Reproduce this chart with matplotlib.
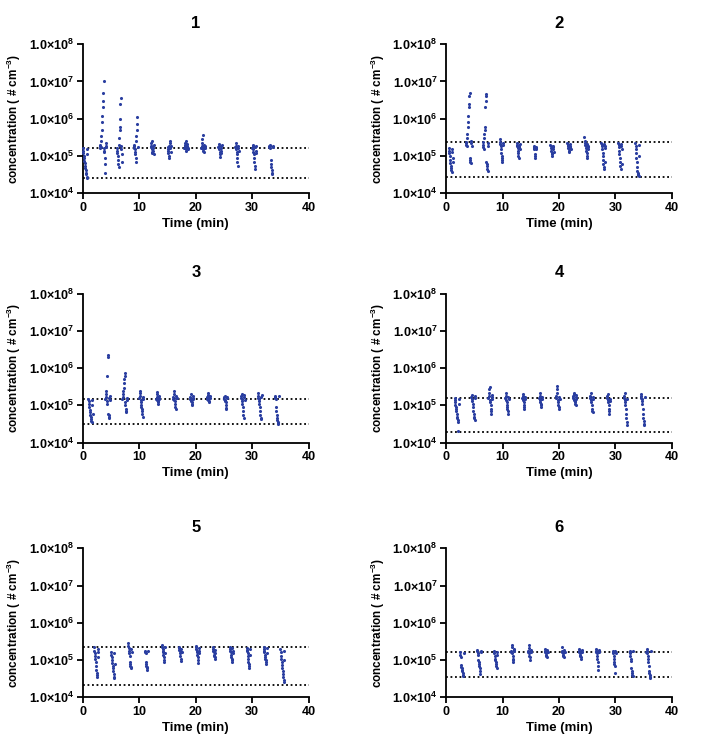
import numpy as np
import matplotlib
matplotlib.use("Agg")
import matplotlib.pyplot as plt
from matplotlib.ticker import FixedLocator, NullLocator

plt.rcParams['font.family'] = ['Liberation Sans', 'DejaVu Sans']
plt.rcParams['font.weight'] = 'bold'
plt.rcParams['mathtext.fontset'] = 'custom'
plt.rcParams['mathtext.rm'] = 'Liberation Sans:bold'
plt.rcParams['mathtext.bf'] = 'Liberation Sans:bold'
plt.rcParams['mathtext.it'] = 'Liberation Sans:bold'

# measurement sampling step inside one burst (min)
dt = 0.055

# start time (min) of each burst per run
starts_1 = [0, 3, 6, 9, 12, 15, 18, 21, 24, 27, 30, 33]
starts_2 = [0.5, 3.5, 6.5, 9.5, 12.5, 15.5, 18.5, 21.5, 24.5, 27.5, 30.5, 33.5]
starts_3 = [1, 4, 7, 10, 13, 16, 19, 22, 25, 28, 31, 34]
starts_4 = [1.5, 4.5, 7.5, 10.5, 13.5, 16.5, 19.5, 22.5, 25.5, 28.5, 31.5, 34.5]
starts_5 = [2, 5, 8, 11, 14, 17, 20, 23, 26, 29, 32, 35]
starts_6 = [2.5, 5.5, 8.5, 11.5, 14.5, 17.5, 20.5, 23.5, 26.5, 29.5, 32.5, 35.5]

# concentrations in 1e5 # cm-3, one list per burst
conc_1 = [
    [1.6, 1.4, 1.2, 1.0, 0.9, 0.75, 0.65, 0.55, 0.48, 0.42, 0.36, 0.32, 0.28, 0.26, 1.5, 1.1],
    [1.6, 1.8, 2.0, 1.7, 2.5, 3.5, 5, 8, 12, 20, 30, 50, 100, 1.6, 1.4, 1.3, 0.9, 0.6, 0.35, 1.9, 1.7, 2.2],
    [1.6, 1.4, 1.2, 1.0, 0.8, 0.6, 0.5, 2, 3, 5, 6, 10, 25, 35, 1.8, 1.5, 1.1, 0.7],
    [1.6, 1.8, 2, 1.5, 1.3, 1.1, 0.9, 0.7, 2.5, 3.5, 5, 7, 11, 1.7],
    [1.7, 1.9, 2.2, 2.5, 1.5, 1.3, 1.2, 1.6, 1.8, 1.4, 1.1, 2.0],
    [1.7, 1.5, 1.4, 1.2, 1.0, 0.9, 1.8, 2.2, 2.5, 1.6, 1.3, 1.9],
    [1.6, 1.8, 2.0, 2.3, 2.6, 1.5, 1.4, 1.7, 1.9, 2.1, 1.6, 1.55],
    [1.6, 1.8, 2.2, 2.8, 3.6, 1.5, 1.4, 1.3, 1.7, 2.0, 1.9, 1.65],
    [1.7, 1.9, 2.1, 1.5, 1.3, 1.1, 0.95, 1.6, 1.8, 1.4, 1.2, 2.0],
    [1.7, 1.9, 2.2, 1.5, 1.3, 1.1, 0.9, 0.7, 0.55, 1.6, 1.8, 1.4],
    [1.6, 1.8, 2.0, 1.5, 1.3, 1.1, 0.9, 0.7, 0.55, 0.45, 1.7, 1.9, 1.4, 1.2],
    [1.7, 1.9, 2.0, 1.8, 1.6, 0.8, 0.6, 0.5, 0.42, 0.36, 0.32, 1.75, 1.85],
]
conc_2 = [
    [1.6, 1.4, 1.2, 1.0, 0.8, 0.65, 0.55, 0.48, 0.42, 0.38, 1.5, 1.3, 0.9, 0.7],
    [2.4, 2.2, 2.0, 1.8, 3, 4, 6, 8, 12, 20, 25, 40, 48, 0.9, 0.8, 0.7, 0.65, 2.6, 2.3, 1.9],
    [2.4, 2.0, 1.7, 1.5, 3, 4, 5, 6, 20, 30, 40, 45, 0.7, 0.6, 0.55, 0.45, 0.4, 2.2, 1.8],
    [2.8, 2.4, 2.1, 1.8, 1.5, 1.2, 1.0, 0.9, 0.8, 0.7, 2.2, 2.0],
    [2.3, 2.0, 1.8, 1.6, 1.4, 1.2, 1.0, 0.9, 1.9, 1.7, 1.5, 2.1],
    [1.8, 1.7, 1.6, 1.5, 1.1, 1.0, 0.9, 1.75, 1.65, 1.55],
    [2.0, 1.8, 1.6, 1.4, 1.2, 1.1, 1.0, 1.9, 1.7, 1.5, 1.3],
    [2.2, 2.0, 1.8, 1.6, 1.5, 1.4, 1.3, 2.1, 1.9, 1.7, 1.55],
    [3.3, 2.5, 2.2, 2.0, 1.8, 1.6, 1.4, 1.2, 1.0, 0.9, 2.1, 1.9, 1.7, 1.5],
    [2.2, 2.0, 1.8, 1.5, 1.2, 1.0, 0.8, 0.6, 0.5, 0.45, 2.1, 1.9, 1.6, 0.7],
    [2.2, 2.0, 1.7, 1.4, 1.1, 0.9, 0.7, 0.55, 0.45, 2.1, 1.9, 1.5, 0.6],
    [2.2, 1.8, 1.5, 1.2, 0.9, 0.7, 0.5, 0.4, 0.35, 0.32, 0.3, 0.29, 2.0, 1.0],
]
conc_3 = [
    [1.5, 1.3, 1.1, 0.9, 0.75, 0.65, 0.55, 0.48, 0.42, 0.38, 0.35, 1.4, 1.0, 0.6],
    [1.5, 1.7, 2.0, 2.5, 1.3, 1.1, 6, 20, 22, 0.6, 0.55, 0.5, 0.45, 1.6, 1.8, 1.4],
    [1.5, 1.7, 2, 2.5, 3, 4, 5, 6, 7.5, 1.2, 1.0, 0.8, 0.7, 0.65, 1.6, 1.4],
    [1.6, 1.8, 2.2, 2.5, 1.4, 1.2, 1.0, 0.9, 0.8, 0.7, 0.6, 0.5, 1.7, 1.5],
    [1.5, 1.7, 2.0, 2.3, 1.4, 1.3, 1.2, 1.1, 1.6, 1.8, 1.5],
    [1.5, 1.7, 2.0, 2.4, 1.4, 1.3, 1.1, 0.9, 0.8, 1.6, 1.8, 1.55],
    [1.5, 1.7, 2.0, 1.4, 1.3, 1.2, 1.1, 1.0, 1.6, 1.8, 1.5],
    [1.5, 1.7, 1.9, 2.2, 1.4, 1.3, 1.2, 1.6, 1.8, 1.55],
    [1.5, 1.7, 1.8, 1.4, 1.3, 1.2, 1.0, 0.85, 0.78, 1.6, 1.65],
    [1.6, 1.8, 2.0, 1.5, 1.3, 1.1, 0.9, 0.7, 0.55, 0.45, 1.7, 1.9, 1.4],
    [1.6, 1.8, 2.1, 1.5, 1.3, 1.1, 0.9, 0.7, 0.55, 0.45, 0.42, 1.7, 1.9],
    [1.6, 1.8, 1.7, 1.5, 0.9, 0.7, 0.55, 0.45, 0.4, 0.36, 0.34, 0.32, 1.75],
]
conc_4 = [
    [1.6, 1.4, 1.2, 1.0, 0.9, 0.8, 0.7, 0.6, 0.5, 0.45, 0.4, 0.35, 0.21, 1.5, 1.1],
    [1.7, 1.9, 1.5, 1.3, 1.1, 0.9, 0.7, 0.6, 0.5, 0.45, 0.4, 1.6, 1.8],
    [1.6, 1.8, 2.2, 2.8, 3.2, 1.4, 1.2, 1.0, 0.8, 0.7, 0.6, 1.7, 1.9, 1.5],
    [1.6, 1.8, 2.2, 1.4, 1.2, 1.0, 0.9, 0.8, 0.7, 0.6, 1.7, 1.5],
    [1.6, 1.8, 2.0, 1.4, 1.2, 1.0, 0.9, 0.8, 1.7, 1.5],
    [1.6, 1.8, 2.1, 1.4, 1.2, 1.1, 1.0, 0.9, 1.7, 1.5],
    [1.6, 1.8, 2.2, 2.8, 3.4, 1.4, 1.2, 1.0, 0.9, 0.8, 1.7, 1.5],
    [1.6, 1.8, 2.0, 2.2, 1.4, 1.3, 1.2, 1.1, 1.0, 1.7, 1.9, 1.5],
    [1.6, 1.8, 2.1, 1.4, 1.2, 1.0, 0.8, 0.7, 0.65, 1.7, 1.5],
    [1.6, 1.8, 2.0, 1.4, 1.2, 1.0, 0.8, 0.7, 0.6, 1.5, 1.3],
    [1.6, 1.8, 2.1, 1.4, 1.2, 1.0, 0.8, 0.6, 0.45, 0.35, 0.3, 1.5],
    [1.6, 1.8, 2.0, 1.5, 1.3, 1.1, 0.8, 0.6, 0.45, 0.38, 0.32, 0.3, 1.7],
]
conc_5 = [
    [2.2, 1.8, 1.5, 1.3, 1.1, 0.9, 0.7, 0.55, 0.45, 0.4, 0.35, 2.0, 1.6, 1.2],
    [1.6, 1.4, 1.2, 1.0, 0.85, 0.7, 0.6, 0.5, 0.42, 0.36, 0.33, 1.5, 0.8],
    [2.8, 2.4, 2.1, 1.8, 1.5, 1.3, 0.9, 0.8, 0.7, 0.65, 0.6, 2.0, 1.6],
    [1.8, 1.6, 1.5, 0.9, 0.8, 0.7, 0.65, 0.6, 0.55, 1.7],
    [2.6, 2.3, 2.0, 1.8, 1.6, 1.4, 1.2, 1.0, 0.9, 2.2, 1.5],
    [2.3, 2.1, 1.9, 1.7, 1.5, 1.3, 1.1, 0.95, 2.0, 1.6],
    [2.4, 2.2, 2.0, 1.8, 1.6, 1.4, 1.2, 1.0, 0.85, 2.1, 1.7, 1.5],
    [2.2, 2.0, 1.8, 1.6, 1.4, 1.3, 1.2, 1.1, 1.9, 1.5],
    [2.2, 2.0, 1.8, 1.6, 1.4, 1.2, 1.1, 1.0, 0.9, 2.1, 1.7, 1.5],
    [2.1, 1.9, 1.7, 1.5, 1.3, 1.1, 0.9, 0.8, 0.7, 0.6, 2.0, 1.4],
    [2.2, 2.0, 1.8, 1.6, 1.4, 1.2, 1.1, 1.0, 0.9, 0.8, 2.1, 1.5],
    [2.0, 1.6, 1.3, 1.1, 0.9, 0.75, 0.6, 0.5, 0.42, 0.35, 0.3, 0.26, 1.8, 1.0],
]
conc_6 = [
    [1.6, 1.4, 1.2, 0.75, 0.65, 0.6, 0.55, 0.5, 0.45, 0.4, 0.37, 1.5],
    [1.9, 1.7, 1.5, 1.4, 1.0, 0.9, 0.8, 0.7, 0.6, 0.5, 0.42, 1.6, 1.8],
    [1.7, 1.5, 1.3, 1.1, 1.0, 0.9, 0.8, 0.7, 0.6, 1.6, 1.4],
    [1.6, 1.8, 2.2, 2.6, 1.5, 1.3, 1.1, 1.0, 0.9, 1.7, 1.9, 2.0],
    [1.6, 1.8, 2.1, 2.5, 1.5, 1.3, 1.2, 1.0, 1.7, 1.9, 1.65],
    [1.6, 1.8, 2.0, 1.5, 1.4, 1.3, 1.2, 1.7, 1.9, 1.65],
    [1.6, 1.8, 2.2, 1.5, 1.4, 1.3, 1.2, 1.7, 1.9, 1.65],
    [1.6, 1.8, 2.0, 1.5, 1.4, 1.3, 1.2, 1.1, 1.7, 1.9, 1.65],
    [1.6, 1.8, 2.0, 1.5, 1.3, 1.1, 0.9, 0.7, 0.55, 1.7, 1.9, 1.65],
    [1.6, 1.8, 1.5, 1.3, 1.1, 0.9, 0.8, 0.7, 0.45, 1.7, 1.55],
    [1.6, 1.8, 1.5, 1.3, 1.1, 0.95, 0.6, 0.5, 0.45, 0.4, 0.37, 1.7],
    [1.6, 1.8, 2.0, 1.5, 1.3, 1.1, 0.9, 0.7, 0.5, 0.45, 0.4, 0.36, 0.34, 1.7],
]

# upper / lower dotted reference levels (# cm-3)
upper = [1.65e5, 2.4e5, 1.5e5, 1.6e5, 2.2e5, 1.6e5]
lower = [2.5e4, 2.8e4, 3.1e4, 1.9e4, 2.2e4, 3.5e4]

titles = ["1", "2", "3", "4", "5", "6"]
all_starts = [starts_1, starts_2, starts_3, starts_4, starts_5, starts_6]
all_conc = [conc_1, conc_2, conc_3, conc_4, conc_5, conc_6]

y_ticks = [1e4, 1e5, 1e6, 1e7, 1e8]
y_labels = [r"$\mathbf{1.0{\times}10^{%d}}$" % e for e in range(4, 9)]

fig = plt.figure(figsize=(7.08, 7.49), dpi=100)

lefts = [0.117, 0.630]
bottoms = [0.742, 0.409, 0.069]
w, h = 0.319, 0.199

for k in range(6):
    ax = fig.add_axes([lefts[k % 2], bottoms[k // 2], w, h])
    for t0, vals in zip(all_starts[k], all_conc[k]):
        t = t0 + dt * np.arange(len(vals))
        c = np.array(vals) * 1e5
        ax.scatter(t, c, s=5, color='#2a3ea0', linewidths=0, clip_on=False, zorder=3)
    ax.hlines([upper[k], lower[k]], 0, 40, colors='black', linestyles=(0, (1, 1.5)), linewidth=1.3, zorder=2)

    ax.set_yscale('log')
    ax.set_ylim(1e4, 1e8)
    ax.set_xlim(0, 40)
    ax.yaxis.set_major_locator(FixedLocator(y_ticks))
    ax.yaxis.set_minor_locator(NullLocator())
    ax.set_yticklabels(y_labels)
    ax.set_xticks([0, 10, 20, 30, 40])
    ax.tick_params(labelsize=9, width=1.3, length=4, direction='out', pad=2)
    for lab in ax.get_xticklabels():
        lab.set_fontweight('bold')
    for s in ['top', 'right']:
        ax.spines[s].set_visible(False)
    for s in ['left', 'bottom']:
        ax.spines[s].set_linewidth(1.3)

    ax.set_title(titles[k], fontsize=12, fontweight='bold', pad=12)
    ax.set_xlabel("Time (min)", fontsize=9.5, fontweight='bold', labelpad=3)
    ax.set_ylabel(r"concentration ( # cm$^{\mathbf{-3}}$)", fontsize=8.5, fontweight='bold', labelpad=4)

fig.savefig("out.png", dpi=100)
